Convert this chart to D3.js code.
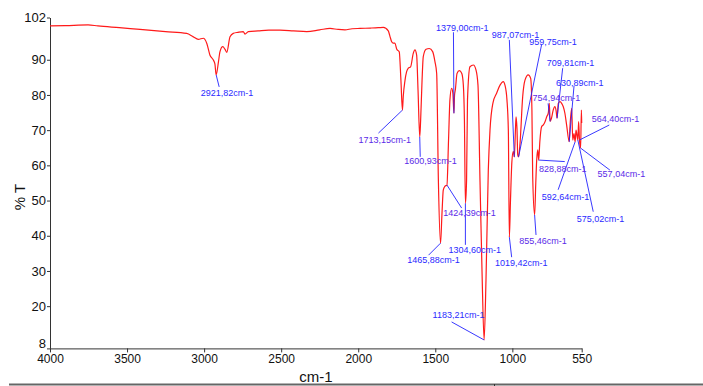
<!DOCTYPE html>
<html lang="en">
<head>
    <meta charset="UTF-8">
    <title>IR spectrum</title>
    <script src="https://d3js.org/d3.v7.min.js"></script>
    <style>
        body { margin: 0; background: #fff; }
        text { font-family: "Liberation Sans Narrow", "Arial Narrow", "Liberation Sans", sans-serif; }
    </style>
</head>
<body>
<script>
    const width = 703
    const height = 386

    // spectrum: wavenumber (cm-1) and %T
    const wavenumbers = [4000, 3900, 3753, 3689, 3550, 3416, 3250, 3113, 3070, 3038, 3005, 2983, 2962, 2940, 2930,
        2921.82, 2907, 2897, 2879, 2865, 2853, 2832, 2811, 2780, 2746, 2735, 2713, 2650, 2580, 2508, 2420, 2334,
        2250, 2183, 2130, 2086, 2040, 1989, 1920, 1870, 1837, 1805, 1795, 1783, 1773, 1762, 1750, 1734, 1723,
        1713.15, 1708, 1697, 1686, 1675, 1660, 1643, 1632, 1621, 1612, 1600.93, 1595, 1586, 1578, 1560, 1539,
        1517, 1502, 1491, 1480, 1465.88, 1457, 1448, 1437, 1424.39, 1414, 1405, 1394, 1386, 1379.00, 1375, 1370,
        1359, 1344, 1328, 1318, 1311, 1304.60, 1297, 1291, 1275, 1253, 1236, 1223, 1210, 1197, 1183.21, 1171,
        1156, 1145, 1126, 1102, 1080, 1059, 1048, 1035, 1026, 1019.42, 1012, 1003, 994, 987.07, 980, 976, 970,
        965, 959.75, 950, 933, 918, 897, 881, 873, 868, 855.46, 848, 842, 835, 828.88, 822, 810, 799, 788, 777,
        767, 760, 754.94, 746, 735, 724, 716, 709.81, 702, 691, 680, 670, 659, 648, 630.89, 626, 615, 608, 600,
        592.64, 587, 575.02, 570, 564.40, 557.04, 552, 550]
    const transmittance = [99.6, 99.7, 99.9, 99.6, 99.1, 98.6, 98.0, 97.5, 96.5, 95.8, 96.1, 94.7, 91.3, 89.9, 88.8,
        85.7, 89.4, 92.3, 93.7, 93.0, 92.1, 96.5, 97.5, 97.8, 98.0, 97.3, 98.0, 98.2, 98.4, 98.4, 98.2, 98.0,
        98.5, 98.9, 98.6, 98.5, 98.8, 98.9, 99.0, 99.1, 99.2, 98.2, 96.8, 95.1, 94.7, 94.7, 93.0, 92.3, 84.2,
        75.7, 79.5, 84.0, 86.6, 87.6, 88.0, 91.8, 92.8, 91.3, 81.4, 68.1, 72.9, 84.0, 90.9, 93.0, 93.2,
        92.3, 89.4, 86.1, 55.8, 37.9, 45.9, 53.0, 54.1, 54.4, 67.2, 78.6, 81.9, 80.5, 74.8, 80.0, 81.4,
        86.1, 86.9, 86.1, 82.8, 72.9, 49.2, 55.8, 78.6, 88.0, 88.5, 87.1, 82.8, 55.8, 30.3, 10.4, 27.4,
        58.7, 70.0, 77.7, 80.5, 82.8, 83.8, 82.8, 78.6, 70.0, 39.6, 50.2, 61.0, 64.0, 62.4, 70.0, 73.8, 70.5,
        63.0, 62.4, 66.3, 79.5, 84.2, 85.7, 84.7, 75.7, 56.8, 45.9, 55.0, 61.5, 64.4, 61.5, 66.5, 71.0, 71.5, 72.4, 73.8,
        74.8, 77.6, 72.5, 73.4, 75.7, 76.7, 75.5, 73.4, 77.6, 78.1, 77.6, 76.7, 74.8, 71.5, 66.7, 71.0, 76.2, 67.2, 69.0,
        66.7, 70.0, 67.2, 72.4, 67.2, 64.9, 75.7, 72.0]

    // picked peaks
    const peakNames = ["2921,82cm-1", "1713,15cm-1", "1600,93cm-1", "1465,88cm-1", "1424,39cm-1", "1379,00cm-1",
        "1304,60cm-1", "1183,21cm-1", "1019,42cm-1", "987,07cm-1", "959,75cm-1", "855,46cm-1", "828,88cm-1",
        "754,94cm-1", "709,81cm-1", "630,89cm-1", "592,64cm-1", "575,02cm-1", "564,40cm-1", "557,04cm-1"]
    const peakWavenumbers = [2921.82, 1713.15, 1600.93, 1465.88, 1424.39, 1379.00, 1304.60, 1183.21, 1019.42,
        987.07, 959.75, 855.46, 828.88, 754.94, 709.81, 630.89, 592.64, 575.02, 564.40, 557.04]
    const peakT = [85.7, 75.7, 68.1, 37.9, 54.4, 74.8, 49.2, 10.4, 39.6, 62.4, 62.4, 45.9, 61.5, 72.5, 73.4,
        66.7, 66.7, 67.2, 67.2, 64.9]

    const xTicks = [4000, 3500, 3000, 2500, 2000, 1500, 1000, 550]
    const yTicks = [102, 90, 80, 70, 60, 50, 40, 30, 20, 8]

    // label layout, offsets from the peak in px: leader end [lx, ly], text start [tx, ty]
    const labelLayout = [
        [3, 12, -15.5, 21], [-24, 23, -44, 32.5], [0.5, 20, -15.4, 27], [-12, 12, -33.3, 20],
        [14.7, 23, -3.7, 31.3], [-0.5, -81, -18, -82.5], [0, 41.5, -17, 49.5], [-32.5, -18, -51.5, -22],
        [2.3, 20, -14.4, 29], [-5, -117, -22.6, -119], [23, -112, 10.7, -112], [1.4, 20, -15.3, 29.5],
        [26, 1.5, 0.3, 11.5], [-2, -18, -17.5, -20], [5.6, -50, -10.4, -51.7], [4.8, -56, -13.2, -55.8],
        [-17, 48, -33.5, 58], [15.4, 71.7, -1.2, 81.5], [29.8, -15, 12.2, -18], [29.3, 22, 17, 29]
    ]
    const purpleLabels = ["1600,93cm-1", "1424,39cm-1", "855,46cm-1", "828,88cm-1", "564,40cm-1", "557,04cm-1", "1713,15cm-1", "754,94cm-1"]

    let svg = d3.select("body").append("svg")
        .attr("width", width)
        .attr("height", height)
        .attr("viewBox", `0 0 ${width} ${height}`)

    svg.append("rect").attr("width", width).attr("height", height).attr("fill", "#fff")

    const x = d3.scaleLinear().domain([4000, 550]).range([50, 581.7])
    const y = d3.scaleLinear().domain([8, 102]).range([348.4, 17.5])

    // axes
    let gx = svg.append("g")
        .attr("transform", `translate(0, ${y(8)})`)
        .call(d3.axisBottom(x).tickValues(xTicks).tickSize(4).tickSizeOuter(0).tickFormat(d3.format("d")))
    gx.selectAll("text").attr("font-size", 12).attr("dy", "0.75em").attr("y", 6).attr("fill", "#111")

    let gy = svg.append("g")
        .attr("transform", `translate(${x(4000)}, 0)`)
        .call(d3.axisLeft(y).tickValues(yTicks).tickSize(3).tickSizeOuter(0).tickFormat(d3.format("d")))
    gy.selectAll("text").attr("font-size", 13).attr("x", -4).attr("fill", "#111")
    // the lowest label sits a little higher so it clears the 4000 below it
    gy.selectAll("text").filter(d => d === 8).attr("dy", "-0.05em")

    svg.selectAll(".domain, .tick line").attr("stroke", "#333")

    svg.append("text")
        .attr("transform", `translate(25, 197) rotate(-90)`)
        .attr("text-anchor", "middle")
        .attr("font-size", 15)
        .attr("fill", "#111")
        .text("% T")

    svg.append("text")
        .attr("x", 316).attr("y", 382)
        .attr("text-anchor", "middle")
        .attr("font-size", 15)
        .attr("fill", "#111")
        .text("cm-1")

    // page frame line at the bottom
    svg.append("line").attr("x1", 9).attr("x2", width).attr("y1", 384.5).attr("y2", 384.5)
        .attr("stroke", "#666").attr("stroke-width", 2)
    svg.append("line").attr("x1", 494.5).attr("x2", 494.5).attr("y1", 384).attr("y2", 386)
        .attr("stroke", "#333").attr("stroke-width", 1)

    // spectrum
    const points = wavenumbers.map((w, i) => [w, transmittance[i]])
    const line = d3.line()
        .x(d => x(d[0]))
        .y(d => y(d[1]))
        .curve(d3.curveMonotoneX)

    svg.append("path")
        .datum(points)
        .attr("fill", "none")
        .attr("stroke", "#ff1a1a")
        .attr("stroke-width", 1.2)
        .attr("d", line)

    // peak labels
    const peaks = peakNames.map((n, i) => ({name: n, w: peakWavenumbers[i], t: peakT[i], lay: labelLayout[i]}))
    let gPeaks = svg.append("g")
    gPeaks.selectAll("path")
        .data(peaks)
        .enter()
        .append("line")
        .attr("x1", d => x(d.w))
        .attr("y1", d => y(d.t))
        .attr("x2", d => x(d.w) + d.lay[0])
        .attr("y2", d => y(d.t) + d.lay[1])
        .attr("stroke", "#2222ff")
        .attr("stroke-width", 0.9)

    gPeaks.selectAll("text")
        .data(peaks)
        .enter()
        .append("text")
        .attr("x", d => x(d.w) + d.lay[2])
        .attr("y", d => y(d.t) + d.lay[3])
        .attr("font-size", 9)
        .attr("fill", d => purpleLabels.includes(d.name) ? "#5a2ae8" : "#2a2aff")
        .text(d => d.name)
</script>
</body>
</html>
